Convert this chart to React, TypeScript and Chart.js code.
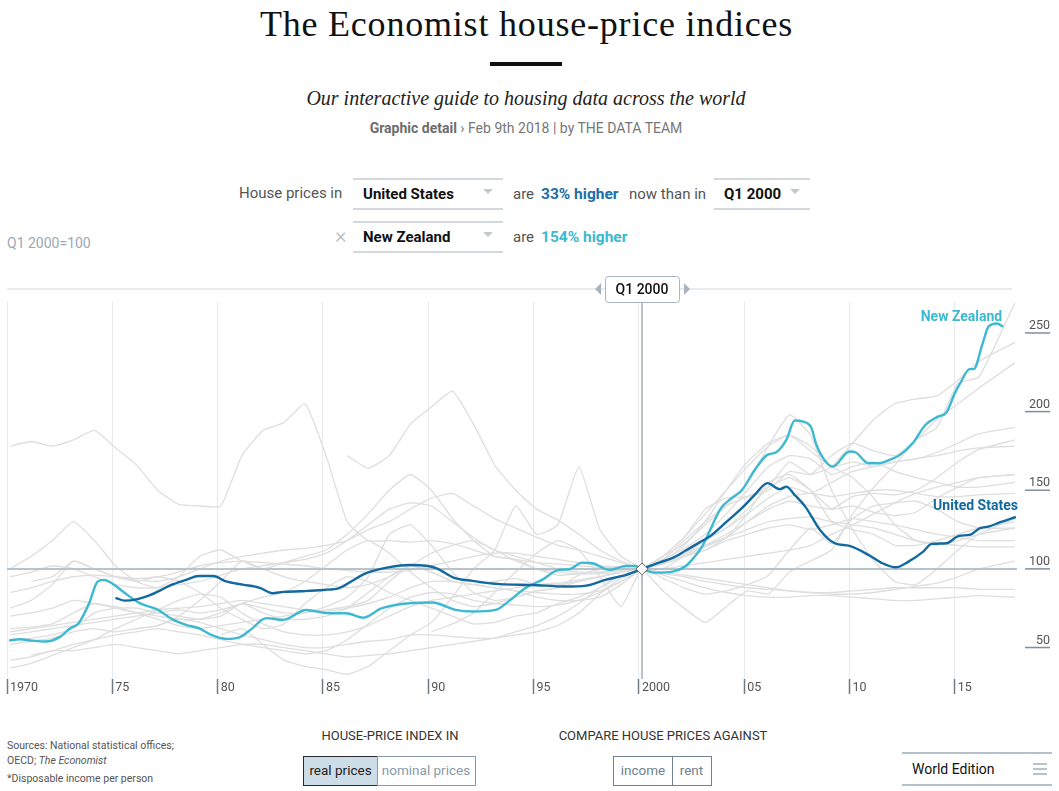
import React, { useEffect, useRef } from "react";
import { Chart, registerables } from "chart.js";

Chart.register(...registerables);

const SANS = "Roboto, 'Noto Sans', Arial, sans-serif";
const SERIF = "'Liberation Serif', 'DejaVu Serif', serif";

const US_COLOR = "#12699f";
const NZ_COLOR = "#3cb9d1";
const GREY = "#dedede";
const REF_COLOR = "#b7c3cc";

// axes
const xMin = 1970;
const xMax = 2018;
const yMin = 30;
const yMax = 270;
const xTickYears = [1970, 1975, 1980, 1985, 1990, 1995, 2000, 2005, 2010, 2015];
const xTickLabels = ["1970", "75", "80", "85", "90", "95", "2000", "05", "10", "15"];
const yTickValues = [50, 100, 150, 200, 250];
const baseYear = 2000.15; // Q1 2000
const baseValue = 100;
const baseLabel = "Q1 2000";

// highlighted series (year, index Q1 2000 = 100)
const usYears = [1975.15, 1975.6, 1976.2, 1976.7, 1977.3, 1977.8, 1978.5, 1979.1, 1979.8, 1980.4, 1981.2, 1982.0, 1982.6, 1983.1, 1984.0, 1985.0, 1985.8, 1986.4, 1987.0, 1987.6, 1988.1, 1989.1, 1989.9, 1990.4, 1991.2, 1992.1, 1993.4, 1994.9, 1996.5, 1997.5, 1998.4, 1999.4, 2000.15, 2000.96, 2001.6, 2002.2, 2002.9, 2003.4, 2004.0, 2004.9, 2005.5, 2006.1, 2006.7, 2007.0, 2007.4, 2007.9, 2008.6, 2009.3, 2010.0, 2010.9, 2011.5, 2012.2, 2012.8, 2013.5, 2013.9, 2014.6, 2015.2, 2015.7, 2016.2, 2016.6, 2017.1, 2017.9];
const usValues = [81.6, 79.8, 80.8, 82.8, 86.5, 89.8, 93, 95.5, 95.5, 92, 90, 88, 84.5, 85.4, 85.8, 86.6, 88, 92.5, 97, 99.5, 101, 102.5, 102, 100.4, 94.5, 92.4, 90.3, 89.8, 88.8, 89.4, 93, 96.2, 100, 104, 107, 111.5, 117, 121, 128, 138.8, 147, 154.5, 150.7, 152.3, 147, 139.6, 124.8, 116.3, 114.6, 108.9, 104, 101, 104.6, 111, 115.9, 116.3, 121, 121.6, 125.9, 126.9, 129.4, 133];

const nzYears = [1970.1, 1970.6, 1971.2, 1971.8, 1972.5, 1973.0, 1973.4, 1973.9, 1974.3, 1974.6, 1975.1, 1975.5, 1976.3, 1977.1, 1977.9, 1978.5, 1979.1, 1979.7, 1980.4, 1981.0, 1981.6, 1982.3, 1983.1, 1984.2, 1985.3, 1986.1, 1986.9, 1987.8, 1989.1, 1990.2, 1991.3, 1992.1, 1993.2, 1993.8, 1994.6, 1995.4, 1996.2, 1996.7, 1997.3, 1997.8, 1998.6, 1999.4, 1999.8, 2000.15, 2000.8, 2001.6, 2002.2, 2002.6, 2003.0, 2003.9, 2004.4, 2004.9, 2005.5, 2006.1, 2006.5, 2007.0, 2007.4, 2007.8, 2008.2, 2008.4, 2008.7, 2009.2, 2010.0, 2010.3, 2010.9, 2011.4, 2011.9, 2012.4, 2013.0, 2013.6, 2014.2, 2014.6, 2015.0, 2015.3, 2015.7, 2015.9, 2016.3, 2016.6, 2017.0, 2017.3];
const nzValues = [54.4, 55.3, 54.4, 53.8, 56.6, 62.3, 65.5, 78.2, 91.9, 93, 89.8, 85.6, 78.2, 74.4, 67.6, 64.4, 62.3, 58, 55.5, 56.3, 61.7, 68.7, 67.6, 73.9, 71.8, 71.8, 69, 75, 78.2, 78.6, 73.9, 72.9, 73.9, 79.2, 87.7, 93, 99.4, 99.8, 104, 103.6, 99.4, 101.9, 101.9, 100, 97.6, 98.3, 101.5, 107, 114.2, 138.6, 145, 150.2, 162.9, 172.5, 174, 182, 194.3, 193.6, 189.4, 179.9, 171.4, 165, 174.6, 174, 167.2, 167.2, 169.3, 172.5, 179.9, 191.5, 196.8, 199.4, 211.7, 219.1, 227, 227, 242.4, 254, 256, 254];

// other countries (yearly, first value at the start year)
const greyA = [178, 181, 178, 182, 188, 177, 166, 150, 141, 140, 140, 172, 188, 193, 205, 172, 130, 118, 118, 117, 118, 116, 112, 108, 106, 104, 103, 102, 101, 101, 100, 97, 95, 92, 90, 88, 87, 86, 85, 85, 86, 87, 88, 88, 88, 88, 87, 87];
const greyB = [172, 164, 172, 192, 203, 213, 192, 166, 150, 138, 131, 122, 112, 105, 100, 104, 109, 115, 122, 130, 138, 143, 140, 138, 146, 148, 147, 150, 158, 168, 176, 182];
const greyC = [100, 108, 118, 130, 118, 102, 92, 88, 95, 108, 112, 105, 100, 104, 108, 112, 122, 135, 150, 160, 150, 132, 118, 108, 106, 100, 96, 97, 98, 99, 100, 106, 118, 130, 140, 146, 152, 158, 150, 138, 140, 136, 134, 136, 145, 152, 158, 160];
const greyD = [58, 62, 52, 42, 38, 36, 33, 38, 48, 58, 66, 82, 100, 112, 140, 122, 128, 165, 125, 108, 100, 86, 75, 66, 76, 86, 84, 98, 105, 112, 135, 152, 166, 182, 190, 218, 222, 269];
const greyE = [60, 65, 72, 85, 98, 110, 118, 112, 95, 76, 100, 94, 88, 84, 86, 90, 96, 112, 126, 116, 132, 140, 142, 143, 138, 130, 126, 126];
const greyF = [62, 64, 68, 66, 62, 58, 55, 52, 50, 50, 52, 54, 55, 58, 58, 57, 56, 56, 58, 60, 64, 72, 84, 94, 100, 108, 116, 128, 140, 155, 178, 198, 185, 150, 125, 105, 92, 90, 100, 112, 122, 132];
const greyG = [45, 48, 52, 55, 58, 60, 62, 60, 58, 55, 52, 50, 48, 46, 48, 55, 65, 75, 82, 85, 84, 80, 78, 77, 76, 77, 80, 85, 92, 100, 108, 120, 135, 150, 165, 178, 185, 178, 165, 158, 145, 128, 118, 115, 118, 122, 126];
const greyH = [62, 63, 65, 72, 78, 75, 72, 70, 68, 68, 72, 78, 75, 72, 72, 74, 76, 80, 92, 102, 98, 92, 90, 92, 94, 90, 90, 92, 95, 98, 100, 108, 120, 138, 145, 146, 150, 162, 160, 172, 180, 175, 172, 182, 195, 205, 215, 231];
const greyI = [55, 56, 58, 62, 72, 75, 75, 72, 70, 68, 70, 78, 72, 68, 68, 70, 75, 85, 95, 102, 98, 92, 90, 88, 86, 82, 80, 80, 82, 90, 100, 104, 110, 118, 126, 135, 145, 152, 148, 155, 162, 165, 168, 170, 174, 180, 186, 190];
const greyJ = [58, 60, 62, 64, 66, 68, 70, 72, 74, 72, 74, 78, 82, 85, 92, 102, 112, 118, 110, 98, 88, 80, 76, 78, 82, 86, 88, 92, 95, 98, 100, 104, 110, 118, 126, 138, 152, 168, 160, 165, 180, 195, 205, 208, 210, 220, 232, 244];
const greyK = [92, 95, 105, 100, 95, 92, 95, 92, 85, 75, 68, 62, 65, 78, 88, 95, 92, 85, 80, 75, 70, 65, 66, 70, 72, 78, 82, 88, 95, 100, 104, 108, 112, 120, 135, 155, 160, 150, 130, 125, 122, 115, 115, 118, 122, 126, 130];
const greyM = [85, 88, 92, 95, 96, 95, 94, 95, 98, 102, 104, 105, 104, 103, 102, 100, 99, 98, 98, 99, 102, 105, 108, 110, 110, 108, 106, 104, 102, 101, 100, 98, 96, 94, 92, 90, 88, 86, 85, 84, 84, 85, 87, 89, 91, 95, 100, 105];
const greyN = [75, 80, 90, 105, 100, 95, 93, 92, 95, 100, 105, 108, 110, 112, 113, 115, 118, 125, 130, 138, 145, 148, 140, 132, 126, 120, 115, 112, 108, 104, 100, 96, 92, 88, 85, 83, 82, 82, 83, 83, 82, 81, 80, 80, 81, 82, 83, 82];
const greyO = [52, 54, 56, 60, 62, 60, 62, 64, 70, 80, 92, 105, 100, 95, 92, 90, 88, 90, 95, 102, 110, 115, 118, 112, 105, 100, 98, 97, 97, 98, 100, 104, 110, 115, 120, 125, 130, 132, 133, 130, 128, 126, 122, 118, 116, 115, 114, 114];
const greyP = [60, 62, 64, 66, 68, 70, 72, 74, 75, 76, 78, 80, 78, 76, 74, 73, 75, 78, 82, 88, 92, 92, 90, 88, 86, 85, 84, 84, 86, 92, 100, 106, 113, 122, 135, 150, 165, 172, 170, 160, 165, 168, 162, 158, 155, 152, 152, 155];
const greyQ = [37, 40, 45, 50, 55, 62, 68, 74, 80, 84, 82, 72, 65, 60, 58, 58, 60, 64, 70, 76, 80, 82, 84, 86, 88, 90, 91, 93, 95, 98, 100, 103, 108, 114, 120, 130, 140, 146, 148, 146, 148, 150, 150, 148, 146, 146, 147, 148];
const greyR = [95, 98, 102, 100, 95, 90, 88, 88, 90, 92, 96, 100, 102, 104, 106, 110, 118, 128, 138, 142, 140, 130, 120, 112, 108, 104, 100, 98, 98, 99, 100, 100, 102, 104, 106, 108, 110, 112, 115, 122, 128, 135, 142, 148, 152, 155, 158, 160];
const greyS = [70, 72, 75, 80, 78, 76, 72, 68, 64, 62, 64, 66, 68, 70, 72, 76, 82, 95, 122, 128, 115, 98, 85, 80, 82, 86, 88, 96, 100, 100, 100, 100, 108, 112, 118, 122, 126, 128, 125, 128, 132, 130, 128, 125, 122, 120, 118, 118];
const greyT = [42, 44, 48, 48, 50, 52, 50, 48, 46, 48, 50, 52, 52, 50, 48, 46, 44, 45, 46, 48, 50, 52, 54, 56, 60, 64, 70, 78, 88, 96, 100, 105, 115, 130, 150, 168, 180, 185, 175, 165, 168, 165, 168, 170, 172, 175, 177, 178];

const greyStarts = [1970, 1986, 1970, 1980, 1990, 1976, 1971, 1970, 1970, 1970, 1971, 1970, 1970, 1970, 1970, 1970, 1970, 1970, 1970];
const greyValues = [greyA, greyB, greyC, greyD, greyE, greyF, greyG, greyH, greyI, greyJ, greyK, greyM, greyN, greyO, greyP, greyQ, greyR, greyS, greyT];

function zip(xs: number[], ys: number[]) {
  return xs.map((x, i) => ({ x, y: ys[i] }));
}
function yearly(start: number, vals: number[]) {
  // Q1 of each year, the latest reading is Q4 2017
  return vals.map((v, i) => ({ x: start + i + (i === vals.length - 1 ? 0.85 : 0.15), y: v }));
}

const overlayPlugin = {
  id: "economistOverlay",
  beforeDatasetDraw(chart: any, args: any) {
    if (args.index !== 1) return;
    const { ctx, chartArea, scales } = chart;
    const y100 = scales.y.getPixelForValue(baseValue);
    const xb = scales.x.getPixelForValue(baseYear);
    ctx.save();
    ctx.strokeStyle = REF_COLOR;
    ctx.lineWidth = 2;
    ctx.beginPath();
    ctx.moveTo(chartArea.left, y100);
    ctx.lineTo(chartArea.right - 1, y100);
    ctx.moveTo(xb, chartArea.top);
    ctx.lineTo(xb, chartArea.bottom);
    ctx.stroke();
    ctx.restore();
  },
  afterDatasetsDraw(chart: any) {
    const { ctx, scales } = chart;
    const xs = scales.x;
    const ys = scales.y;
    const xb = xs.getPixelForValue(baseYear);
    const yb = ys.getPixelForValue(baseValue);
    ctx.save();
    ctx.beginPath();
    ctx.moveTo(xb, yb - 6);
    ctx.lineTo(xb + 6, yb);
    ctx.lineTo(xb, yb + 6);
    ctx.lineTo(xb - 6, yb);
    ctx.closePath();
    ctx.fillStyle = "#ffffff";
    ctx.fill();
    ctx.strokeStyle = "#666";
    ctx.lineWidth = 1;
    ctx.stroke();
    ctx.font = `bold 14px ${SANS}`;
    ctx.textAlign = "right";
    ctx.textBaseline = "middle";
    const nzX = xs.getPixelForValue(nzYears[nzYears.length - 1]);
    const nzY = ys.getPixelForValue(nzValues[nzValues.length - 1]);
    ctx.fillStyle = NZ_COLOR;
    ctx.fillText("New Zealand", nzX - 1, nzY - 9);
    const usX = xs.getPixelForValue(usYears[usYears.length - 1]);
    const usY = ys.getPixelForValue(usValues[usValues.length - 1]);
    ctx.fillStyle = US_COLOR;
    ctx.fillText("United States", usX + 2, usY - 10);
    ctx.restore();
  },
  afterDraw(chart: any) {
    const { ctx, chartArea, scales } = chart;
    const ys = scales.y;
    ctx.save();
    ctx.strokeStyle = "#7f8e99";
    ctx.lineWidth = 1.5;
    ys.ticks.forEach((t: any) => {
      const py = ys.getPixelForValue(t.value);
      ctx.beginPath();
      ctx.moveTo(ys.right - 25, py);
      ctx.lineTo(ys.right, py);
      ctx.stroke();
    });
    const xb = scales.x.getPixelForValue(baseYear);
    const barY = chartArea.top - 12.5;
    ctx.strokeStyle = "#e9ecee";
    ctx.lineWidth = 2;
    ctx.beginPath();
    ctx.moveTo(chartArea.left, barY);
    ctx.lineTo(chartArea.right - 6, barY);
    ctx.stroke();
    const bw = 74;
    const bh = 26;
    ctx.beginPath();
    if (ctx.roundRect) ctx.roundRect(xb - bw / 2 + 0.5, barY - bh / 2 + 0.5, bw, bh, 3);
    else ctx.rect(xb - bw / 2 + 0.5, barY - bh / 2 + 0.5, bw, bh);
    ctx.fillStyle = "#fff";
    ctx.fill();
    ctx.strokeStyle = "#a9b5be";
    ctx.lineWidth = 1;
    ctx.stroke();
    ctx.fillStyle = "#111";
    ctx.font = `500 14px ${SANS}`;
    ctx.textAlign = "center";
    ctx.textBaseline = "middle";
    ctx.fillText(baseLabel, xb, barY + 1);
    ctx.fillStyle = "#a7b3bc";
    ctx.beginPath();
    ctx.moveTo(xb - 47, barY);
    ctx.lineTo(xb - 41, barY - 6);
    ctx.lineTo(xb - 41, barY + 6);
    ctx.closePath();
    ctx.fill();
    ctx.beginPath();
    ctx.moveTo(xb + 48, barY);
    ctx.lineTo(xb + 42, barY - 6);
    ctx.lineTo(xb + 42, barY + 6);
    ctx.closePath();
    ctx.fill();
    ctx.restore();
  },
};

function HouseChart() {
  const ref = useRef<HTMLCanvasElement | null>(null);
  useEffect(() => {
    if (!ref.current) return;
    const greyDatasets = greyValues.map((vals, i) => ({
      label: "country " + i,
      data: yearly(greyStarts[i], vals),
      borderColor: GREY,
      borderWidth: 1.3,
      pointRadius: 0,
      tension: 0.15,
      fill: false,
    }));
    const chart = new Chart(ref.current, {
      type: "line",
      data: {
        datasets: [
          {
            label: "United States",
            data: zip(usYears, usValues),
            borderColor: US_COLOR,
            borderWidth: 2.4,
            pointRadius: 0,
            cubicInterpolationMode: "monotone",
            fill: false,
          },
          {
            label: "New Zealand",
            data: zip(nzYears, nzValues),
            borderColor: NZ_COLOR,
            borderWidth: 2.4,
            pointRadius: 0,
            cubicInterpolationMode: "monotone",
            fill: false,
          },
          ...greyDatasets,
        ] as any,
      },
      options: {
        animation: false,
        responsive: true,
        maintainAspectRatio: false,
        layout: { padding: { left: 7, right: 9, top: 41.5, bottom: 0 } },
        plugins: { legend: { display: false }, tooltip: { enabled: false } },
        events: [],
        scales: {
          x: {
            type: "linear",
            min: xMin,
            max: xMax,
            afterBuildTicks: (s: any) => {
              s.ticks = xTickYears.map((v) => ({ value: v }));
            },
            afterFit: (s: any) => {
              s.height = 21;
            },
            grid: {
              color: "#e8ebee",
              lineWidth: 1,
              drawTicks: true,
              tickLength: 15,
              tickColor: "#6f7c86",
              tickWidth: 1.5,
            },
            border: { display: false },
            ticks: {
              align: "start",
              labelOffset: 3,
              padding: -14,
              color: "#555",
              font: { family: SANS, size: 12.5 },
              autoSkip: false,
              maxRotation: 0,
              callback: (_v: any, i: number) => xTickLabels[i],
            },
          },
          y: {
            type: "linear",
            position: "right",
            min: yMin,
            max: yMax,
            afterBuildTicks: (s: any) => {
              s.ticks = yTickValues.map((v) => ({ value: v }));
            },
            afterFit: (s: any) => {
              s.width = 32;
            },
            grid: { display: false },
            border: { display: false },
            ticks: {
              crossAlign: "far",
              labelOffset: -7,
              color: "#555",
              font: { family: SANS, size: 12.5 },
            },
          },
        },
      } as any,
      plugins: [overlayPlugin],
    });
    return () => chart.destroy();
  }, []);
  return (
    <div style={{ position: "absolute", left: 0, top: 260, width: 1059, height: 440 }}>
      <canvas ref={ref} />
    </div>
  );
}

const abs = (left: number, top: number, extra: React.CSSProperties = {}): React.CSSProperties => ({
  position: "absolute",
  left,
  top,
  whiteSpace: "nowrap",
  fontFamily: SANS,
  lineHeight: "20px",
  ...extra,
});

function Dropdown({ left, top, width, text }: { left: number; top: number; width: number; text: string }) {
  return (
    <div
      style={{
        position: "absolute",
        left,
        top,
        width,
        height: 32,
        boxSizing: "border-box",
        borderTop: "2px solid #d3d8dc",
        borderBottom: "2px solid #d3d8dc",
      }}
    >
      <span style={{ position: "absolute", left: 10, top: 4, fontFamily: SANS, fontWeight: 700, fontSize: 15, lineHeight: "20px", color: "#111" }}>
        {text}
      </span>
      <span
        style={{
          position: "absolute",
          right: 10,
          top: 9,
          width: 0,
          height: 0,
          borderLeft: "5px solid transparent",
          borderRight: "5px solid transparent",
          borderTop: "5px solid #c2c8cc",
        }}
      />
    </div>
  );
}

function Button({ left, width, text, active, color }: { left: number; width: number; text: string; active?: boolean; color: string }) {
  return (
    <div
      style={{
        position: "absolute",
        left,
        top: 756,
        width,
        height: 30,
        boxSizing: "border-box",
        border: `1.5px solid ${active ? "#2a2a2a" : color}`,
        background: active ? "#cddde7" : "#fff",
        color: active ? "#222" : color,
        fontFamily: SANS,
        fontSize: 13.5,
        lineHeight: "27px",
        textAlign: "center",
      }}
    >
      {text}
    </div>
  );
}

export default function App() {
  return (
    <div style={{ position: "absolute", left: 0, top: 0, width: 1059, height: 791, background: "#fff", overflow: "hidden" }}>
      <div style={{ position: "absolute", left: 0, top: 2, width: 1053, textAlign: "center", fontFamily: SERIF, fontSize: 36, letterSpacing: 0.8, lineHeight: "44px", color: "#111" }}>
        The Economist house-price indices
      </div>
      <div style={{ position: "absolute", left: 490, top: 62, width: 72, height: 4, background: "#111" }} />
      <div style={{ position: "absolute", left: 0, top: 86, width: 1052, textAlign: "center", fontFamily: SERIF, fontStyle: "italic", fontSize: 20, lineHeight: "24px", color: "#222" }}>
        Our interactive guide to housing data across the world
      </div>
      <div style={{ position: "absolute", left: 0, top: 118, width: 1052, textAlign: "center", fontFamily: SANS, fontSize: 14, lineHeight: "20px", color: "#777" }}>
        <span style={{ fontWeight: 700, color: "#6d6d6d" }}>Graphic detail</span> › Feb 9th 2018 | by THE DATA TEAM
      </div>

      <span style={abs(239, 183, { fontSize: 15, color: "#555" })}>House prices in</span>
      <Dropdown left={353} top={178} width={150} text="United States" />
      <span style={abs(513, 184, { fontSize: 15, color: "#555" })}>are</span>
      <span style={abs(541, 184, { fontSize: 15.5, fontWeight: 700, color: "#1d6ea5" })}>33% higher</span>
      <span style={abs(629, 184, { fontSize: 15, color: "#555" })}>now than in</span>
      <Dropdown left={714} top={178} width={96} text="Q1 2000" />

      <span style={abs(335, 226, { fontSize: 22, color: "#bbb", fontWeight: 300 })}>×</span>
      <Dropdown left={353} top={221} width={150} text="New Zealand" />
      <span style={abs(513, 227, { fontSize: 15, color: "#555" })}>are</span>
      <span style={abs(541, 227, { fontSize: 15.5, fontWeight: 700, color: "#3cb9d1" })}>154% higher</span>

      <span style={abs(7, 233, { fontSize: 14, color: "#9ba8b4" })}>Q1 2000=100</span>

      <HouseChart />

      <div style={{ position: "absolute", left: 7, top: 738, fontFamily: SANS, fontSize: 10.5, lineHeight: "15px", color: "#555" }}>
        Sources: National statistical offices;
        <br />
        OECD; <i>The Economist</i>
      </div>
      <div style={{ position: "absolute", left: 7, top: 771, fontFamily: SANS, fontSize: 10.5, lineHeight: "15px", color: "#555" }}>
        *Disposable income per person
      </div>

      <div style={{ position: "absolute", left: 290, top: 727, width: 200, textAlign: "center", fontFamily: SANS, fontSize: 13, lineHeight: "18px", color: "#333" }}>
        HOUSE-PRICE INDEX IN
      </div>
      <Button left={303} width={75} text="real prices" active color="#8a9ba8" />
      <Button left={376.5} width={99} text="nominal prices" color="#8a9ba8" />

      <div style={{ position: "absolute", left: 543, top: 727, width: 240, textAlign: "center", fontFamily: SANS, fontSize: 13, lineHeight: "18px", color: "#333" }}>
        COMPARE HOUSE PRICES AGAINST
      </div>
      <Button left={613} width={60} text="income" color="#6e8290" />
      <Button left={671.5} width={40} text="rent" color="#6e8290" />

      <div style={{ position: "absolute", left: 902, top: 752, width: 150, height: 34, boxSizing: "border-box", borderTop: "2px solid #b5c1ca", borderBottom: "2px solid #b5c1ca" }}>
        <span style={{ position: "absolute", left: 10, top: 5, fontFamily: SANS, fontSize: 14, lineHeight: "20px", color: "#111" }}>World Edition</span>
        <div style={{ position: "absolute", left: 131, top: 9, width: 14, height: 2, background: "#b8c4cc" }} />
        <div style={{ position: "absolute", left: 131, top: 14, width: 14, height: 2, background: "#b8c4cc" }} />
        <div style={{ position: "absolute", left: 131, top: 19, width: 14, height: 2, background: "#b8c4cc" }} />
      </div>
    </div>
  );
}
